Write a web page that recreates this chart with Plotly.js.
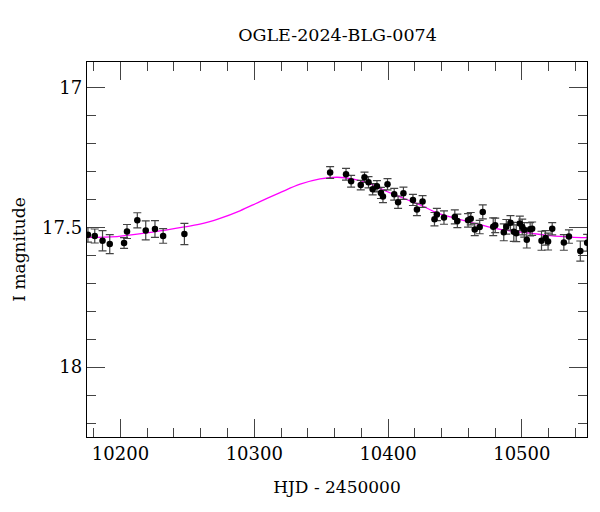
<!DOCTYPE html>
<html>
<head>
<meta charset="utf-8">
<script src="https://cdn.plot.ly/plotly-3.0.1.min.js"></script>
<style>
  html, body { margin: 0; padding: 0; background: #fff; }
  #plot { width: 600px; height: 512px; }
</style>
</head>
<body>
<div id="plot"></div>
<script>
// OGLE photometry (HJD - 2450000, I mag, error)
const obsHjd = [
  10175.7, 10180.8, 10186.6, 10192.0, 10202.7, 10204.9, 10212.6, 10218.9, 10225.8, 10231.9, 10247.8,
  10356.7, 10368.6, 10372.4, 10379.6, 10382.4, 10385.4, 10388.5, 10391.7, 10394.7, 10396.2,
  10399.6, 10404.6, 10407.5, 10411.5, 10418.6, 10421.6, 10425.8, 10434.7, 10436.5, 10441.8,
  10449.9, 10451.8, 10459.8, 10461.8, 10464.8, 10468.5, 10470.8, 10478.6, 10480.1, 10486.5,
  10488.4, 10491.5, 10494.0, 10495.8, 10498.5, 10500.3, 10501.8, 10503.7, 10506.2, 10507.7,
  10514.7, 10517.7, 10519.6, 10522.7, 10531.4, 10535.2, 10543.7, 10548.8
];
const obsMag = [
  17.527, 17.531, 17.548, 17.560, 17.556, 17.515, 17.475, 17.511, 17.506, 17.531, 17.524,
  17.304, 17.310, 17.335, 17.349, 17.321, 17.339, 17.364, 17.353, 17.377, 17.390,
  17.346, 17.382, 17.410, 17.378, 17.402, 17.436, 17.408, 17.471, 17.454, 17.465,
  17.463, 17.477, 17.475, 17.469, 17.508, 17.499, 17.445, 17.498, 17.493, 17.518,
  17.498, 17.484, 17.516, 17.521, 17.486, 17.499, 17.509, 17.544, 17.507, 17.505,
  17.548, 17.538, 17.551, 17.505, 17.554, 17.533, 17.585, 17.555
];
const obsErr = [
  0.026, 0.025, 0.036, 0.034, 0.019, 0.025, 0.027, 0.034, 0.030, 0.026, 0.038,
  0.021, 0.021, 0.021, 0.017, 0.018, 0.020, 0.020, 0.020, 0.020, 0.022,
  0.020, 0.021, 0.022, 0.022, 0.020, 0.022, 0.021, 0.024, 0.022, 0.024,
  0.025, 0.024, 0.024, 0.022, 0.022, 0.024, 0.025, 0.032, 0.026, 0.030,
  0.026, 0.026, 0.034, 0.030, 0.026, 0.028, 0.026, 0.030, 0.024, 0.024,
  0.034, 0.026, 0.030, 0.022, 0.028, 0.024, 0.036, 0.030
];

// model light curve
const modelHjd = [
  10174.8, 10197.5, 10222.5, 10244.4, 10259.4, 10274.4, 10289.3, 10304.3, 10319.3,
  10334.3, 10349.2, 10362.0, 10374.2, 10386.7, 10399.2, 10411.6, 10424.1, 10436.6,
  10446.6, 10461.5, 10476.5, 10491.5, 10506.5, 10521.4, 10536.4, 10549.2
];
const modelMag = [
  17.536, 17.533, 17.518, 17.501, 17.489, 17.468, 17.441, 17.408, 17.376,
  17.346, 17.327, 17.321, 17.328, 17.345, 17.372, 17.396, 17.420, 17.448,
  17.463, 17.482, 17.500, 17.513, 17.521, 17.530, 17.535, 17.537
];

const FONT = "DejaVu Serif, Liberation Serif, serif";

const modelTrace = {
  type: "scatter",
  mode: "lines",
  x: modelHjd,
  y: modelMag,
  line: { color: "#ff00ff", width: 1.3, shape: "spline" },
  hoverinfo: "skip",
};

const obsTrace = {
  type: "scatter",
  mode: "markers",
  x: obsHjd,
  y: obsMag,
  marker: { color: "#000", size: 6.5 },
  error_y: { type: "data", array: obsErr, visible: true, color: "#444", thickness: 1.2, width: 4 },
};

const axisCommon = {
  showgrid: false,
  zeroline: false,
  showline: true,
  linecolor: "#000",
  linewidth: 1.3,
  mirror: "ticks",
  ticks: "inside",
  tickcolor: "#444",
  tickwidth: 1,
  ticklen: 18,
  tickfont: { family: FONT, size: 18, color: "#000" },
};

const layout = {
  width: 600,
  height: 512,
  margin: { l: 87, r: 13, t: 62, b: 75 },
  paper_bgcolor: "#fff",
  plot_bgcolor: "#fff",
  showlegend: false,
  font: { family: FONT, color: "#000" },
  title: {
    text: "OGLE-2024-BLG-0074",
    font: { family: FONT, size: 17.5, color: "#000" },
    x: 0.5625, xanchor: "center",
    y: 1 - 35 / 512, yref: "container", yanchor: "middle",
  },
  xaxis: {
    ...axisCommon,
    range: [10175, 10548.7],
    dtick: 100,
    tick0: 10000,
    tickformat: "d",
    minor: { dtick: 20, ticks: "inside", ticklen: 9, tickcolor: "#444", tickwidth: 1 },
    title: { text: "HJD - 2450000", font: { family: FONT, size: 17, color: "#000" }, standoff: 18 },
  },
  yaxis: {
    ...axisCommon,
    range: [18.2496, 16.909],
    dtick: 0.5,
    tick0: 17,
    minor: { dtick: 0.1, ticks: "inside", ticklen: 9, tickcolor: "#444", tickwidth: 1 },
    title: { text: "I magnitude", font: { family: FONT, size: 17, color: "#000" }, standoff: 12 },
  },
};

Plotly.newPlot("plot", [modelTrace, obsTrace], layout, { displayModeBar: false, staticPlot: true });
</script>
</body>
</html>
